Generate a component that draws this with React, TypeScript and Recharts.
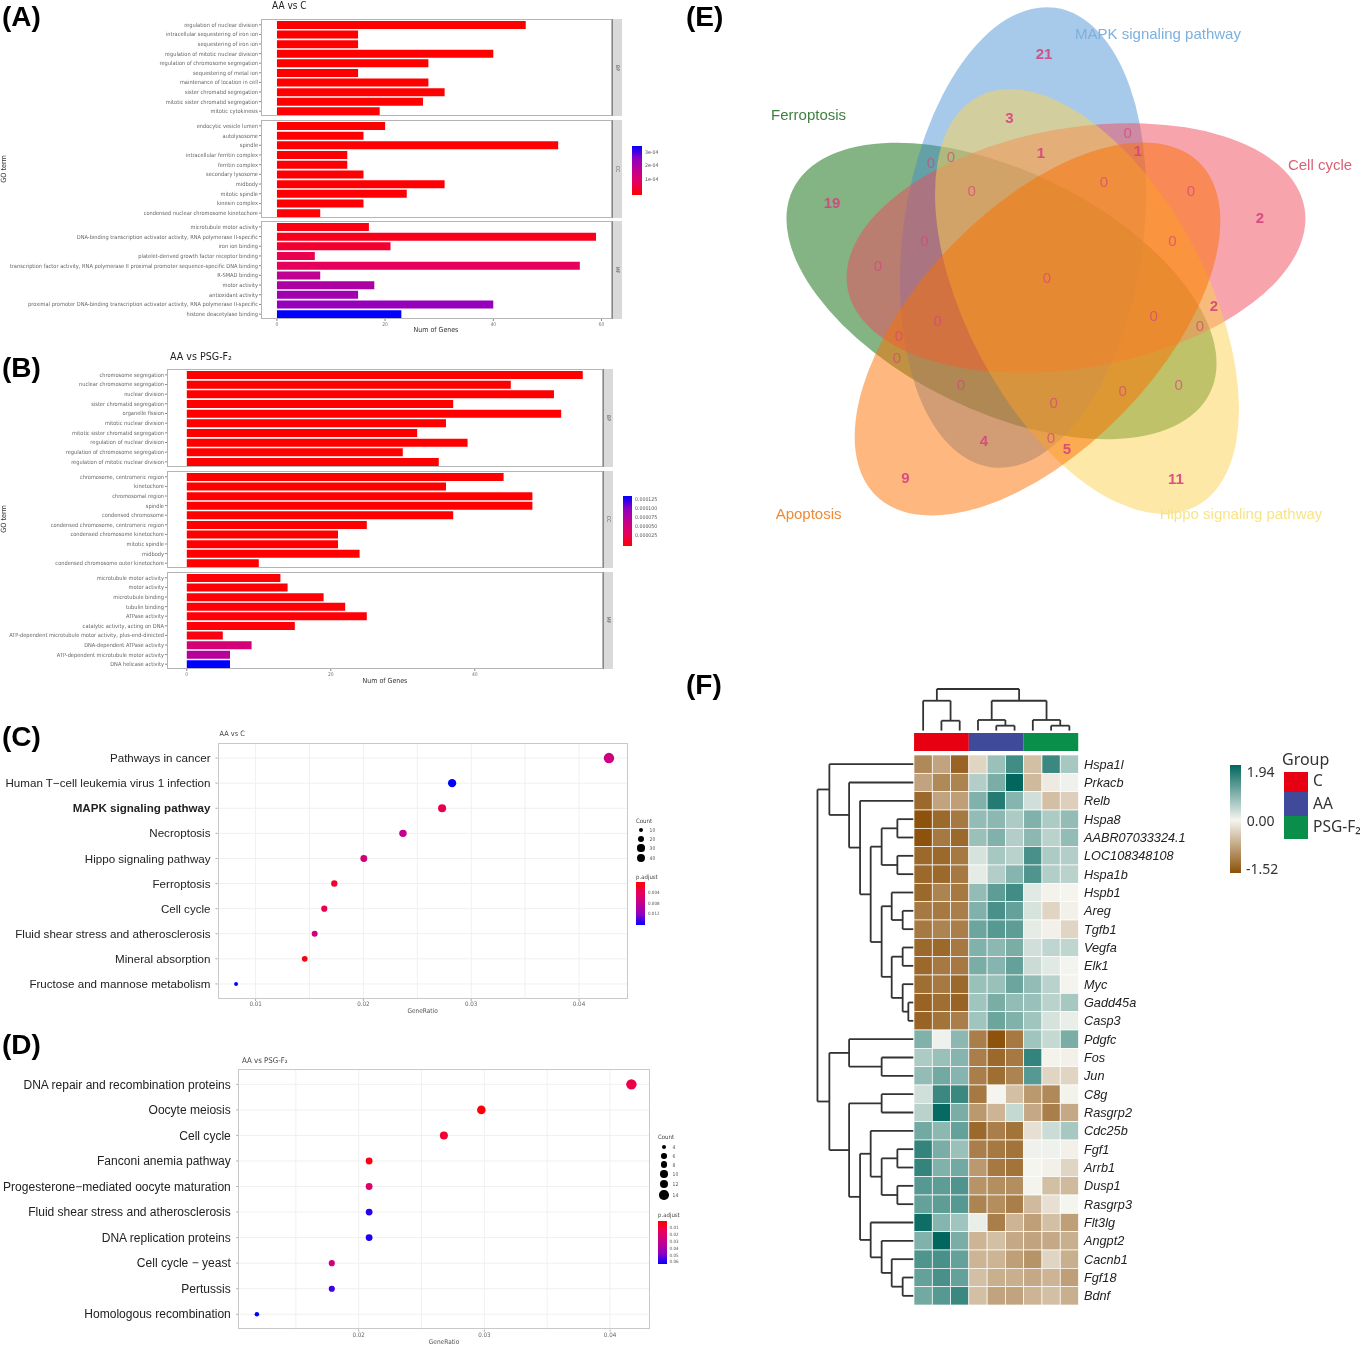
import React from 'react';
import {
  BarChart, Bar, XAxis, YAxis, ZAxis, Cell, ScatterChart, Scatter, CartesianGrid, ReferenceLine,
} from 'recharts';

/* ---------- Panel A data ---------- */
const aBpLabels = ['regulation of nuclear division','intracellular sequestering of iron ion','sequestering of iron ion','regulation of mitotic nuclear division','regulation of chromosome segregation','sequestering of metal ion','maintenance of location in cell','sister chromatid segregation','mitotic sister chromatid segregation','mitotic cytokinesis'];
const aBpValues = [46,15,15,40,28,15,28,31,27,19];
const aBpP = [0.01,0.01,0.01,0.01,0.01,0.01,0.01,0.01,0.01,0.02];
const aCcLabels = ['endocytic vesicle lumen','autolysosome','spindle','intracellular ferritin complex','ferritin complex','secondary lysosome','midbody','mitotic spindle','kinesin complex','condensed nuclear chromosome kinetochore'];
const aCcValues = [20,16,52,13,13,16,31,24,16,8];
const aCcP = [0.02,0.02,0.02,0.03,0.03,0.03,0.03,0.04,0.04,0.05];
const aMfLabels = ['microtubule motor activity','DNA-binding transcription activator activity, RNA polymerase II-specific','iron ion binding','platelet-derived growth factor receptor binding','transcription factor activity, RNA polymerase II proximal promoter sequence-specific DNA binding','R-SMAD binding','motor activity','antioxidant activity','proximal promoter DNA-binding transcription activator activity, RNA polymerase II-specific','histone deacetylase binding'];
const aMfValues = [17,59,21,7,56,8,18,15,40,23];
const aMfP = [0.15,0.25,0.45,0.75,0.85,1.8,2.1,2.3,2.5,3.5];
const aPMax = 3.5;
const aTicks = [0,20,40,60];

/* ---------- Panel B data ---------- */
const bBpLabels = ['chromosome segregation','nuclear chromosome segregation','nuclear division','sister chromatid segregation','organelle fission','mitotic nuclear division','mitotic sister chromatid segregation','regulation of nuclear division','regulation of chromosome segregation','regulation of mitotic nuclear division'];
const bBpValues = [55,45,51,37,52,36,32,39,30,35];
const bCcLabels = ['chromosome, centromeric region','kinetochore','chromosomal region','spindle','condensed chromosome','condensed chromosome, centromeric region','condensed chromosome kinetochore','mitotic spindle','midbody','condensed chromosome outer kinetochore'];
const bCcValues = [44,36,48,48,37,25,21,21,24,10];
const bMfLabels = ['microtubule motor activity','motor activity','microtubule binding','tubulin binding','ATPase activity','catalytic activity, acting on DNA','ATP-dependent microtubule motor activity, plus-end-directed','DNA-dependent ATPase activity','ATP-dependent microtubule motor activity','DNA helicase activity'];
const bMfValues = [13,14,19,22,25,15,5,9,6,6];
const bBpP = [0.1,0.1,0.1,0.1,0.1,0.1,0.1,0.1,0.1,0.1];
const bCcP = [0.2,0.2,0.2,0.2,0.2,0.3,0.3,0.3,0.3,0.5];
const bMfP = [1,1,2,2,2,3,5,50,75,135];
const bPMax = 135;
const bTicks = [0,20,40];

/* ---------- Panel C data ---------- */
const cLabels = ['Pathways in cancer','Human T\u2212cell leukemia virus 1 infection','MAPK signaling pathway','Necroptosis','Hippo signaling pathway','Ferroptosis','Cell cycle','Fluid shear stress and atherosclerosis','Mineral absorption','Fructose and mannose metabolism'];
const cRatio = [0.04278,0.02823,0.0273,0.02367,0.02004,0.0173,0.01637,0.01548,0.01456,0.00819];
const cCount = [46,30,29,25,22,19,18,17,16,9];
const cP = [0.0067,0.016,0.0032,0.008,0.0064,0.002,0.0032,0.0067,0.0006,0.016];
const cPMax = 0.016;
const cTicks = [0.01,0.02,0.03,0.04];
const cGridX = [0.01,0.015,0.02,0.025,0.03,0.035,0.04];

/* ---------- Panel D data ---------- */
const dLabels = ['DNA repair and recombination proteins','Oocyte meiosis','Cell cycle','Fanconi anemia pathway','Progesterone\u2212mediated oocyte maturation','Fluid shear stress and atherosclerosis','DNA replication proteins','Cell cycle \u2212 yeast','Pertussis','Homologous recombination'];
const dRatio = [0.0417,0.02976,0.02678,0.02083,0.02083,0.02083,0.02083,0.01786,0.01786,0.0119];
const dCount = [14,10,9,7,7,7,7,6,6,4];
const dP = [0.012,0.001,0.008,0.003,0.018,0.058,0.06,0.026,0.056,0.063];
const dPMax = 0.063;
const dTicks = [0.02,0.03,0.04];
const dGridX = [0.015,0.02,0.025,0.03,0.035,0.04];

/* ---------- Panel E data ---------- */
const vennSets = ['MAPK signaling pathway','Cell cycle','Ferroptosis','Hippo signaling pathway','Apoptosis'];
const vennCx = [1023,1076,1001.5,1087,1037.5];
const vennCy = [237.5,248,291,301.5,329];
const vennTilt = [-82,-10,26,62,-46];
const vennCounts = [
  [1044,53.5,'21'],[1009.5,118,'3'],[1127.6,133,'0'],[1041,153,'1'],[1138,151,'1'],[951,157,'0'],[931,163,'0'],[1104,182,'0'],
  [971.6,191,'0'],[1191,191,'0'],[832,203,'19'],[1260,218,'2'],[924.5,241,'0'],[1172.5,241,'0'],[878,266,'0'],[1047,278,'0'],
  [1214,305.6,'2'],[1153.6,316,'0'],[937.7,321,'0'],[1200,326,'0'],[899,336,'0'],[897,358,'0'],[961,384.5,'0'],[1178.7,384.5,'0'],
  [1122.7,391,'0'],[1053.6,403,'0'],[1051,438,'0'],[984,441,'4'],[1067,449,'5'],[905.5,478,'9'],[1176,479,'11'],
];

/* ---------- Panel F data ---------- */
const genes = ['Hspa1l','Prkacb','Relb','Hspa8','AABR07033324.1','LOC108348108','Hspa1b','Hspb1','Areg','Tgfb1','Vegfa','Elk1','Myc','Gadd45a','Casp3','Pdgfc','Fos','Jun','C8g','Rasgrp2','Cdc25b','Fgf1','Arrb1','Dusp1','Rasgrp3','Flt3lg','Angpt2','Cacnb1','Fgf18','Bdnf'];
const expression = [
  [-1.0,-0.75,-1.35,-0.3,0.85,1.5,-0.5,1.55,0.75],
  [-0.75,-1.0,-1.05,0.65,1.1,1.94,-0.55,-0.1,0.1],
  [-1.3,-0.75,-0.8,1.05,1.7,1.0,0.4,-0.5,-0.35],
  [-1.5,-1.3,-1.15,0.9,0.95,0.7,1.05,0.7,0.9],
  [-1.5,-1.15,-1.3,0.85,1.05,0.65,0.95,0.6,0.9],
  [-1.3,-1.3,-1.15,0.35,0.75,0.6,1.45,0.7,0.65],
  [-1.3,-1.3,-1.15,0.2,0.65,1.0,1.4,0.65,0.6],
  [-1.3,-1.05,-1.15,0.9,1.3,1.5,0.25,-0.03,0],
  [-1.15,-1.15,-1.1,1.05,1.45,1.25,0.35,-0.3,-0.05],
  [-1.15,-1.05,-1.1,1.2,1.35,1.3,0.2,-0.05,-0.3],
  [-1.3,-1.3,-1.15,1.05,0.95,1.1,0.4,0.55,0.55],
  [-1.3,-1.15,-1.15,1.1,1.0,1.25,0.45,0.25,0.02],
  [-1.25,-1.15,-1.3,0.85,0.85,1.2,0.9,0.6,-0.02],
  [-1.35,-1.25,-1.35,0.8,1.1,0.9,0.85,0.6,0.75],
  [-1.35,-1.2,-1.1,0.8,1.2,1.05,0.8,0.35,0.15],
  [1.05,0.1,0.95,-1.1,-1.5,-1.15,0.8,0.5,1.1],
  [0.7,0.85,1.0,-1.1,-1.3,-1.15,1.6,-0.03,-0.05],
  [0.9,1.15,1.0,-1.1,-1.25,-1.05,1.35,-0.3,-0.3],
  [0.4,1.55,1.55,-1.15,0,-0.5,-0.85,-1.0,-0.03],
  [0.6,1.9,1.1,-0.85,-0.6,0.5,-0.7,-1.1,-0.7],
  [1.15,0.95,1.25,-1.3,-1.1,-1.2,-0.2,0.45,0.75],
  [1.6,1.1,0.85,-1.1,-1.15,-1.2,0.1,0.1,-0.05],
  [1.6,1.05,1.15,-0.85,-1.15,-1.2,0,-0.05,-0.3],
  [1.35,1.3,1.4,-0.9,-0.95,-0.95,-0.02,-0.5,-0.55],
  [1.25,1.3,1.35,-1.05,-0.95,-1.1,-0.55,-0.2,0],
  [1.85,1.0,0.8,0.15,-1.1,-0.6,-0.8,-0.5,-0.8],
  [1.05,1.94,1.1,-0.6,-0.5,-0.7,-0.75,-0.7,-0.65],
  [1.4,1.45,1.25,-0.6,-0.6,-0.8,-0.9,-0.3,-0.65],
  [1.25,1.45,1.25,-0.5,-0.65,-0.65,-0.7,-0.6,-0.8],
  [1.15,1.35,1.55,-0.5,-0.75,-0.75,-0.6,-0.5,-0.65],
];
const groups = ['C','AA','PSG-F\u2082'];
const groupSizes = [3,3,3];
// merges: [height, first child position, first child height, second child position, second child height]
const rowTree = [
  [-0.91,3.5,0,4.5,0],[-0.91,5.5,0,6.5,0],[-1.77,4,-0.91,6,-0.91],[-0.62,8.5,0,9.5,0],[-1.22,7.5,0,9,-0.62],
  [-0.62,10.5,0,11.5,0],[-0.31,13.5,0,14.5,0],[-0.62,12.5,0,14,-0.31],[-1.22,11,-0.62,13.25,-0.62],[-1.77,8.25,-1.22,12.1,-1.22],
  [-2.37,5,-1.77,10.2,-1.77],[-2.95,2.5,0,7.6,-2.37],[-3.55,1.5,0,5.05,-2.95],[-4.63,0.5,0,3.27,-3.55],
  [-1.77,16.5,0,17.5,0],[-3.55,15.5,0,17,-1.77],[-1.77,18.5,0,19.5,0],[-0.91,21.5,0,22.5,0],[-0.91,23.5,0,24.5,0],[-1.77,22,-0.91,24,-0.91],
  [-2.37,20.5,0,23,-1.77],[-0.62,28.5,0,29.5,0],[-1.22,27.5,0,29,-0.62],[-1.77,26.5,0,28.25,-1.22],[-2.37,25.5,0,27.4,-1.77],
  [-2.95,21.75,-2.37,26.45,-2.37],[-3.55,19,-1.77,24.1,-2.95],[-4.63,16.25,-3.55,21.55,-3.55],[-5.28,1.88,-4.63,18.9,-4.63],
];
const colTree = [
  [-1.87,1.5,-1.33,2.5,-1.33],[-2.96,0.5,-1.33,2,-1.87],[-1.6,4.5,-1.33,5.5,-1.33],[-1.91,3.5,-1.33,5,-1.6],
  [-1.6,7.5,-1.33,8.5,-1.33],[-1.91,6.5,-1.33,8,-1.6],[-2.96,4.25,-1.91,7.25,-1.91],[-3.6,1.25,-2.96,5.75,-2.96],
];

/* ---------- styles and helpers ---------- */
const SANS = '"Liberation Sans", Arial, sans-serif';
const COND = '"DejaVu Sans Condensed", "DejaVu Sans", sans-serif';
const NOTO = '"Noto Sans", sans-serif';
const pStops = [[255,0,0],[230,0,94],[194,0,143],[142,0,195],[0,0,255]];
const pColor = (t: number) => {
  const v = Math.max(0, Math.min(1, t)) * 4;
  const i = Math.min(3, Math.floor(v));
  const f = v - i;
  const c = pStops[i].map((a, k) => Math.round(a + (pStops[i + 1][k] - a) * f));
  return `rgb(${c[0]},${c[1]},${c[2]})`;
};
const blueTopGradient = 'linear-gradient(to bottom,#0000ff,#8e00c3,#c2008f,#e6005e,#ff0000)';
const redTopGradient = 'linear-gradient(to bottom,#ff0000,#e6005e,#c2008f,#8e00c3,#0000ff)';
const heatColor = (v: number) => {
  const mid = [245, 245, 240];
  const end = v >= 0 ? [0, 102, 94] : [140, 81, 10];
  const t = v >= 0 ? Math.pow(Math.min(1, v / 1.94), 1.2) : Math.min(1, -v / 1.52);
  const c = mid.map((a, k) => Math.round(a + (end[k] - a) * t));
  return `rgb(${c[0]},${c[1]},${c[2]})`;
};

const Txt = ({ x, y, size, color = '#333', font = SANS, weight = 400, anchor = 'start', rotate = 0, children }: any) => {
  const tx = anchor === 'middle' ? '-50%' : anchor === 'end' ? '-100%' : '0';
  return (
    <div style={{ position: 'absolute', left: x, top: y, fontSize: size, color, fontFamily: font, fontWeight: weight, whiteSpace: 'nowrap', lineHeight: 1,
      transform: `translate(${tx},-50%) rotate(${rotate}deg)` }}>{children}</div>
  );
};
const Box = ({ x, y, w, h, style }: any) => (
  <div style={{ position: 'absolute', left: x, top: y, width: w, height: h, boxSizing: 'border-box', ...style }} />
);

const FacetTick = ({ x, y, payload }: any) => (
  <text x={x} y={y} dy="0.35em" textAnchor="end" fontFamily={COND} fontSize={5.65} fill="#666">{payload.value}</text>
);

const Facet = ({ labels, values, p, pMax, top, height, plotLeft, plotRight, domain, ticks, showX, strip, stripRight }: any) => {
  const data = labels.map((name: string, i: number) => ({ name, value: values[i], p: p[i] }));
  return (
    <>
      <div style={{ position: 'absolute', left: 0, top }}>
        <BarChart width={plotRight} height={height + (showX ? 20 : 0)} data={data} layout="vertical" barCategoryGap="10%"
          margin={{ top: 0, right: 0, bottom: 0, left: 0 }}>
          <XAxis type="number" domain={domain} ticks={ticks} allowDataOverflow hide={!showX} height={20} interval={0}
            tick={{ fontSize: 5, fill: '#777', fontFamily: COND }} tickSize={2} tickMargin={1} axisLine={false} stroke="#888" />
          <YAxis type="category" dataKey="name" width={plotLeft} interval={0} padding={{ top: 1, bottom: 0 }}
            tick={FacetTick} tickSize={2} tickMargin={1} axisLine={false} stroke="#888" />
          <Bar dataKey="value" isAnimationActive={false}>
            {data.map((d: any, i: number) => <Cell key={i} fill={pColor(d.p / pMax)} />)}
          </Bar>
        </BarChart>
      </div>
      <Box x={plotLeft} y={top} w={plotRight - plotLeft} h={height} style={{ border: '1px solid #b5b5b5' }} />
      <Box x={plotRight} y={top} w={stripRight - plotRight} h={height} style={{ background: '#d9d9d9', borderLeft: '1px solid #888' }} />
      <Txt x={(plotRight + stripRight) / 2} y={top + height / 2} size={5} color="#555" anchor="middle" rotate={90} font={COND}>{strip}</Txt>
    </>
  );
};

const DotPlot = ({ labels, ratio, count, p, pMax, boldRow, left, top, plotLeft, plotRight, height, domain, ticks, gridX, zRange, zDomain, size, tickGap }: any) => {
  const rows = labels.map((_: string, i: number) => i + 1);
  const data = labels.map((name: string, i: number) => ({ name, ratio: ratio[i], count: count[i], p: p[i], row: i + 1 }));
  const tick = ({ x, y, payload }: any) => (
    <text x={x} y={y} dy="0.35em" textAnchor="end" fontFamily={SANS} fontSize={size} fill="#222"
      fontWeight={payload.value === boldRow ? 700 : 400}>{labels[payload.value - 1]}</text>
  );
  return (
    <div style={{ position: 'absolute', left, top }}>
      <ScatterChart width={plotRight} height={height + 20} margin={{ top: 0, right: 0, bottom: 0, left: 0 }}>
        <CartesianGrid stroke="#f0f0f0" verticalValues={gridX} horizontalValues={rows} />
        <XAxis type="number" dataKey="ratio" domain={domain} ticks={ticks} allowDataOverflow interval={0} height={20}
          tick={{ fontSize: 6.2, fill: '#666', fontFamily: COND }} tickSize={2} tickMargin={1} axisLine={false} stroke="#aaa" />
        <YAxis type="number" dataKey="row" reversed domain={[0.4, 10.6]} ticks={rows} allowDataOverflow interval={0} width={plotLeft}
          tick={tick} tickSize={2} tickMargin={tickGap} axisLine={false} stroke="#aaa" />
        <ZAxis type="number" dataKey="count" domain={zDomain} range={zRange} />
        <Scatter data={data} isAnimationActive={false}>
          {data.map((d: any, i: number) => <Cell key={i} fill={pColor(d.p / pMax)} />)}
        </Scatter>
      </ScatterChart>
      <Box x={plotLeft} y={0} w={plotRight - plotLeft} h={height} style={{ border: '1.5px solid #c9c9c9' }} />
    </div>
  );
};

const Dot = ({ x, y, r }: any) => (
  <div style={{ position: 'absolute', left: x - r, top: y - r, width: 2 * r, height: 2 * r, borderRadius: '50%', background: '#000' }} />
);

/* ---------- Venn ---------- */
const vennFill = ['#3f8ad0', '#f04a5c', '#0a6a0a', '#fbd14f', '#fb7000'];
const vennText = ['#7db0dd', '#dc5f73', '#3f7f3f', '#f8e488', '#ee8a34'];
const vennOpacity = [0.45, 0.5, 0.5, 0.5, 0.5];
const vennOrder = [2, 0, 1, 3, 4];
const ELLIPSE_A = 232;
const ELLIPSE_B = 120;
const EllipseShape = (props: any) => {
  const { cx, cy } = props;
  const d = props.payload || props;
  return <ellipse cx={cx} cy={cy} rx={ELLIPSE_A} ry={ELLIPSE_B} fill={vennFill[d.i]} fillOpacity={vennOpacity[d.i]}
    transform={`rotate(${d.tilt} ${cx} ${cy})`} />;
};
const CountShape = (props: any) => {
  const d = props.payload || props;
  return <text x={props.cx} y={props.cy} dy="0.35em" textAnchor="middle" fontSize={15} fontFamily={SANS} fontWeight={d.label === '0' ? 400 : 700}
    fill="#d6447f" fillOpacity={d.label === '0' ? 0.7 : 0.9}>{d.label}</text>;
};

const VennChart = () => {
  const ellipses = vennSets.map((name, i) => ({ name, i, x: vennCx[i], y: vennCy[i], tilt: vennTilt[i] }));
  const order = vennOrder.map((i) => ellipses[i]);
  const counts = vennCounts.map((c) => ({ x: c[0], y: c[1], label: c[2] }));
  return (
    <div style={{ position: 'absolute', left: 680, top: 0 }}>
      <ScatterChart width={687} height={550} margin={{ top: 0, right: 0, bottom: 0, left: 0 }}>
        <XAxis type="number" dataKey="x" domain={[680, 1367]} allowDataOverflow hide />
        <YAxis type="number" dataKey="y" domain={[0, 550]} reversed allowDataOverflow hide />
        <Scatter data={order} shape={EllipseShape} isAnimationActive={false} />
        <Scatter data={counts} shape={CountShape} isAnimationActive={false} />
      </ScatterChart>
    </div>
  );
};

/* ---------- Heatmap ---------- */
const CELL_W = 18.28;
const CELL_H = 18.33;
const HeatCell = (props: any) => {
  const { cx, cy } = props;
  const d = props.payload || props;
  return <rect x={cx - CELL_W / 2} y={cy - CELL_H / 2} width={CELL_W} height={CELL_H} fill={heatColor(d.v)} stroke="#fff" strokeWidth={0.7} />;
};
const HeatChart = () => {
  const cells = expression.flatMap((row, r) => row.map((v, c) => ({ x: c + 0.5, y: r + 0.5, v })));
  const rowTicks = genes.map((_, i) => i + 0.5);
  const lines: any[] = [];
  rowTree.forEach(([h, a, ah, b, bh]) => {
    lines.push([h, a, h, b], [h, a, ah === 0 ? -0.03 : ah, a], [h, b, bh === 0 ? -0.03 : bh, b]);
  });
  colTree.forEach(([h, a, ah, b, bh]) => {
    lines.push([a, h, b, h], [a, h, a, ah], [b, h, b, bh]);
  });
  return (
    <div style={{ position: 'absolute', left: 800, top: 670 }}>
      <ScatterChart width={402} height={645} margin={{ top: 0, right: 0, bottom: 0, left: 0 }}>
        <XAxis type="number" dataKey="x" domain={[-6.236, 9.19]} allowDataOverflow hide />
        <YAxis type="number" dataKey="y" domain={[-4.636, 30.545]} reversed allowDataOverflow orientation="right" width={120}
          ticks={rowTicks} interval={0} tickSize={0} tickMargin={2} axisLine={false} tickLine={false}
          tick={{ fontSize: 12.7, fontStyle: 'italic', fill: '#222', fontFamily: SANS }}
          tickFormatter={(v: number) => genes[Math.floor(v)]} />
        {lines.map((l, i) => (
          <ReferenceLine key={i} segment={[{ x: l[0], y: l[1] }, { x: l[2], y: l[3] }]} stroke="#333" strokeWidth={1.8} ifOverflow="visible" />
        ))}
        <Scatter data={cells} shape={HeatCell} isAnimationActive={false} />
      </ScatterChart>
    </div>
  );
};
const groupColors = ['#e60012', '#3f4a9a', '#0a8f4a'];
const GroupBar = () => {
  const row: any = { name: 'Group' };
  groups.forEach((g, i) => { row[g] = groupSizes[i]; });
  return (
    <div style={{ position: 'absolute', left: 914, top: 732.7 }}>
      <BarChart width={164.5} height={18.6} data={[row]} layout="vertical" barCategoryGap={0} margin={{ top: 0, right: 0, bottom: 0, left: 0 }}>
        <XAxis type="number" domain={[0, 9]} allowDataOverflow hide />
        <YAxis type="category" dataKey="name" hide />
        {groups.map((g, i) => <Bar key={g} dataKey={g} stackId="g" fill={groupColors[i]} isAnimationActive={false} />)}
      </BarChart>
    </div>
  );
};

/* ---------- Page ---------- */
const Letter = ({ x, y, children }: any) => <Txt x={x} y={y} size={28} color="#000" weight={700}>{children}</Txt>;

export default function App() {
  const aDom = [-2.95, 61.95];
  const bDom = [-2.75, 57.75];
  return (
    <div style={{ position: 'absolute', left: 0, top: 0, width: 1367, height: 1347, background: '#fff', overflow: 'hidden', fontFamily: SANS }}>
      <div style={{ position: 'absolute', left: 0, top: 0, width: 1367, height: 1347, filter: 'blur(0.3px)' }}>
      <Letter x={2} y={17}>(A)</Letter>
      <Letter x={2} y={368}>(B)</Letter>
      <Letter x={2} y={737}>(C)</Letter>
      <Letter x={2} y={1045}>(D)</Letter>
      <Letter x={686} y={17}>(E)</Letter>
      <Letter x={686} y={685}>(F)</Letter>

      {/* Panel A */}
      <Txt x={272} y={6} size={10} color="#222" font={COND}>AA vs C</Txt>
      <Facet labels={aBpLabels} values={aBpValues} p={aBpP} pMax={aPMax} top={19} height={97} plotLeft={261} plotRight={612} stripRight={622} domain={aDom} ticks={aTicks} strip="BP" />
      <Facet labels={aCcLabels} values={aCcValues} p={aCcP} pMax={aPMax} top={120} height={98} plotLeft={261} plotRight={612} stripRight={622} domain={aDom} ticks={aTicks} strip="CC" />
      <Facet labels={aMfLabels} values={aMfValues} p={aMfP} pMax={aPMax} top={221} height={98} plotLeft={261} plotRight={612} stripRight={622} domain={aDom} ticks={aTicks} strip="MF" showX />
      <Txt x={4} y={169} size={7.2} color="#333" anchor="middle" rotate={-90} font={COND}>GO term</Txt>
      <Txt x={436} y={330} size={7} color="#333" anchor="middle" font={COND}>Num of Genes</Txt>
      <Box x={632} y={146} w={10} h={49} style={{ background: blueTopGradient }} />
      {[['3e-04', 153], ['2e-04', 166], ['1e-04', 180]].map(([t, y]: any) => <Txt key={t} x={645} y={y} size={5.2} color="#555" font={COND}>{t}</Txt>)}

      {/* Panel B */}
      <Txt x={170} y={356} size={10.6} color="#222" font={COND}>AA vs PSG-F₂</Txt>
      <Facet labels={bBpLabels} values={bBpValues} p={bBpP} pMax={bPMax} top={369.3} height={97.7} plotLeft={167} plotRight={602.6} stripRight={612.6} domain={bDom} ticks={bTicks} strip="BP" />
      <Facet labels={bCcLabels} values={bCcValues} p={bCcP} pMax={bPMax} top={470.7} height={97} plotLeft={167} plotRight={602.6} stripRight={612.6} domain={bDom} ticks={bTicks} strip="CC" />
      <Facet labels={bMfLabels} values={bMfValues} p={bMfP} pMax={bPMax} top={571.7} height={97} plotLeft={167} plotRight={602.6} stripRight={612.6} domain={bDom} ticks={bTicks} strip="MF" showX />
      <Txt x={4} y={519} size={7.2} color="#333" anchor="middle" rotate={-90} font={COND}>GO term</Txt>
      <Txt x={385} y={681} size={7} color="#333" anchor="middle" font={COND}>Num of Genes</Txt>
      <Box x={622.6} y={496} w={9.5} h={49.7} style={{ background: blueTopGradient }} />
      {[['0.000125', 500], ['0.000100', 509], ['0.000075', 518], ['0.000050', 527], ['0.000025', 536]].map(([t, y]: any) => <Txt key={t} x={635} y={y} size={5.2} color="#555" font={COND}>{t}</Txt>)}

      {/* Panel C */}
      <Txt x={219.6} y={734} size={7.3} color="#444" font={COND}>AA vs C</Txt>
      <DotPlot labels={cLabels} ratio={cRatio} count={cCount} p={cP} pMax={cPMax} boldRow={3} left={0} top={743.3} plotLeft={217.5} plotRight={628} height={256}
        domain={[0.006466, 0.044545]} ticks={cTicks} gridX={cGridX} zDomain={[9, 46]} zRange={[12, 85]} size={11.6} tickGap={5} />
      <Txt x={422.6} y={1011} size={6.5} color="#555" anchor="middle" font={COND}>GeneRatio</Txt>
      <Txt x={636} y={821} size={6} color="#444" font={COND}>Count</Txt>
      {[[10, 830, 2], [20, 839, 3], [30, 848, 3.6], [40, 858, 4.2]].map(([c, y, r]) => (
        <React.Fragment key={c}><Dot x={641} y={y} r={r} /><Txt x={649.6} y={y} size={5} color="#555" font={COND}>{c}</Txt></React.Fragment>
      ))}
      <Txt x={636} y={877} size={6} color="#444" font={COND}>p.adjust</Txt>
      <Box x={636} y={882} w={9} h={42.7} style={{ background: redTopGradient }} />
      {[['0.004', 893], ['0.008', 904], ['0.012', 914]].map(([t, y]: any) => <Txt key={t} x={648} y={y} size={4.5} color="#555" font={COND}>{t}</Txt>)}

      {/* Panel D */}
      <Txt x={242} y={1060.7} size={7.8} color="#444" font={COND}>AA vs PSG-F₂</Txt>
      <DotPlot labels={dLabels} ratio={dRatio} count={dCount} p={dP} pMax={dPMax} left={0} top={1068.7} plotLeft={238.3} plotRight={650} height={260.6}
        domain={[0.01042, 0.04318]} ticks={dTicks} gridX={dGridX} zDomain={[4, 14]} zRange={[16, 85]} size={12.05} tickGap={5.5} />
      <Txt x={444} y={1341.7} size={6.5} color="#555" anchor="middle" font={COND}>GeneRatio</Txt>
      <Txt x={658} y={1137} size={6} color="#444" font={COND}>Count</Txt>
      {[[4, 1147, 2], [6, 1156, 2.8], [8, 1164.6, 3.2], [10, 1174, 3.7], [12, 1184, 4.2], [14, 1195, 4.7]].map(([c, y, r]) => (
        <React.Fragment key={c}><Dot x={664} y={y} r={r} /><Txt x={672.6} y={y} size={5} color="#555" font={COND}>{c}</Txt></React.Fragment>
      ))}
      <Txt x={658} y={1215} size={6} color="#444" font={COND}>p.adjust</Txt>
      <Box x={658} y={1220.7} w={9} h={43.3} style={{ background: redTopGradient }} />
      {[['0.01', 1227.7], ['0.02', 1234.7], ['0.03', 1241.7], ['0.04', 1248.7], ['0.05', 1255.7], ['0.06', 1262]].map(([t, y]: any) => <Txt key={t} x={669.6} y={y} size={4.5} color="#555" font={COND}>{t}</Txt>)}

      {/* Panel E */}
      <VennChart />
      <Txt x={1158} y={33} size={15} color={vennText[0]} anchor="middle">{vennSets[0]}</Txt>
      <Txt x={1320} y={164} size={15} color={vennText[1]} anchor="middle">{vennSets[1]}</Txt>
      <Txt x={808.6} y={114} size={15} color={vennText[2]} anchor="middle">{vennSets[2]}</Txt>
      <Txt x={1241} y={513} size={15} color={vennText[3]} anchor="middle">{vennSets[3]}</Txt>
      <Txt x={808.6} y={513} size={15} color={vennText[4]} anchor="middle">{vennSets[4]}</Txt>

      {/* Panel F */}
      <HeatChart />
      <GroupBar />
      <Box x={1230} y={765} w={10.7} h={108.3} style={{ background: 'linear-gradient(to bottom,#00665e 0%,#f5f5f0 51%,#8c510a 100%)' }} />
      <Txt x={1246.7} y={772} size={14} color="#333" font={NOTO}>1.94</Txt>
      <Txt x={1246.7} y={820.7} size={14} color="#333" font={NOTO}>0.00</Txt>
      <Txt x={1246} y={869} size={14} color="#333" font={NOTO}>-1.52</Txt>
      <Txt x={1282} y={759} size={16} color="#333" font={NOTO}>Group</Txt>
      {groups.map((g, i) => (
        <React.Fragment key={g}>
          <Box x={1284.3} y={772.3 + i * 23.3 - (i === 0 ? 0 : 3.3)} w={23.4} h={i === 0 ? 20 : 23.3} style={{ background: groupColors[i] }} />
          <Txt x={1313} y={781 + i * 23} size={15.5} color="#333" font={NOTO}>{g}</Txt>
        </React.Fragment>
      ))}
      </div>
    </div>
  );
}
